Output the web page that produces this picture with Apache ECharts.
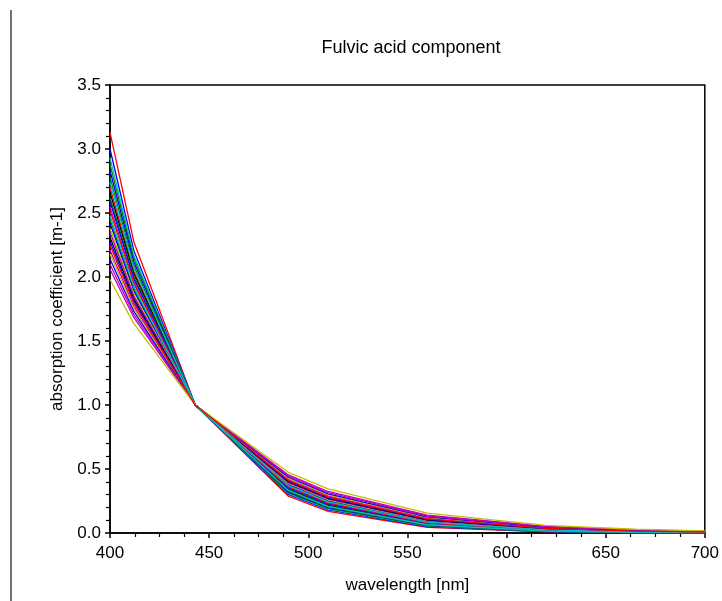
<!DOCTYPE html>
<html>
<head>
<meta charset="utf-8">
<script src="https://cdn.jsdelivr.net/npm/echarts@6/dist/echarts.min.js"></script>
<style>html,body{margin:0;padding:0;background:#fff}#c{width:722px;height:601px}</style>
</head>
<body>
<div id="c"></div>
<script>
const titleText = 'Fulvic acid component';
const xName = 'wavelength [nm]';
const yName = 'absorption coefficient [m-1]';
const wavelengths = [400, 412, 443, 490, 510, 560, 620, 665, 700];

const s01 = [3.13, 2.276, 1, 0.2873, 0.1690, 0.0448, 0.00913, 0.00277, 0.00109];
const s02 = [3.00, 2.208, 1, 0.3010, 0.1806, 0.0503, 0.01087, 0.00344, 0.00141];
const s03 = [2.93, 2.171, 1, 0.3088, 0.1873, 0.0537, 0.01198, 0.00389, 0.00162];
const s04 = [2.88, 2.144, 1, 0.3147, 0.1924, 0.0562, 0.01285, 0.00425, 0.00180];
const s05 = [2.83, 2.117, 1, 0.3208, 0.1977, 0.0590, 0.01381, 0.00465, 0.00199];
const s06 = [2.78, 2.090, 1, 0.3271, 0.2033, 0.0619, 0.01486, 0.00509, 0.00222];
const s07 = [2.74, 2.068, 1, 0.3323, 0.2080, 0.0644, 0.01577, 0.00549, 0.00242];
const s08 = [2.70, 2.046, 1, 0.3377, 0.2127, 0.0670, 0.01676, 0.00592, 0.00264];
const s09 = [2.66, 2.025, 1, 0.3433, 0.2178, 0.0698, 0.01783, 0.00640, 0.00289];
const s10 = [2.62, 2.002, 1, 0.3490, 0.2229, 0.0727, 0.01898, 0.00692, 0.00316];
const s11 = [2.59, 1.986, 1, 0.3534, 0.2270, 0.0751, 0.01990, 0.00734, 0.00339];
const s12 = [2.55, 1.964, 1, 0.3594, 0.2326, 0.0783, 0.02121, 0.00796, 0.00372];
const s13 = [2.52, 1.947, 1, 0.3641, 0.2369, 0.0809, 0.02227, 0.00846, 0.00399];
const s14 = [2.48, 1.925, 1, 0.3705, 0.2429, 0.0845, 0.02379, 0.00919, 0.00439];
const s15 = [2.45, 1.908, 1, 0.3755, 0.2475, 0.0873, 0.02501, 0.00979, 0.00472];
const s16 = [2.42, 1.891, 1, 0.3806, 0.2523, 0.0903, 0.02630, 0.01043, 0.00508];
const s17 = [2.38, 1.869, 1, 0.3876, 0.2590, 0.0945, 0.02817, 0.01137, 0.00562];
const s18 = [2.35, 1.851, 1, 0.3930, 0.2642, 0.0978, 0.02969, 0.01214, 0.00606];
const s19 = [2.31, 1.829, 1, 0.4005, 0.2713, 0.1025, 0.03187, 0.01327, 0.00671];
const s20 = [2.28, 1.811, 1, 0.4062, 0.2769, 0.1062, 0.03362, 0.01419, 0.00726];
const s21 = [2.25, 1.794, 1, 0.4122, 0.2827, 0.1101, 0.03551, 0.01519, 0.00786];
const s22 = [2.21, 1.771, 1, 0.4203, 0.2907, 0.1156, 0.03823, 0.01667, 0.00874];
const s23 = [2.18, 1.754, 1, 0.4267, 0.2970, 0.1200, 0.04045, 0.01789, 0.00949];
const s24 = [2.14, 1.731, 1, 0.4354, 0.3056, 0.1262, 0.04365, 0.01969, 0.01060];
const s25 = [2.10, 1.707, 1, 0.4445, 0.3147, 0.1328, 0.04718, 0.02171, 0.01187];
const s26 = [2.06, 1.684, 1, 0.4539, 0.3243, 0.1400, 0.05106, 0.02396, 0.01331];
const s27 = [1.98, 1.636, 1, 0.4740, 0.3450, 0.1559, 0.06009, 0.02940, 0.01686];

const allSeries = [s01,s02,s03,s04,s05,s06,s07,s08,s09,s10,s11,s12,s13,s14,s15,s16,s17,s18,s19,s20,s21,s22,s23,s24,s25,s26,s27];

const R='#ff0000', B='#0000ff', G='#008000', C='#00bfbf', M='#bf00bf', Y='#bfbf00', K='#000000';
const lineColors = [R,B,C,G,B,G,C,R,K,G,B,M,R,C,G,B,Y,M,K,B,R,M,Y,B,M,M,Y];

const font = 'Liberation Sans, Arial, sans-serif';
const chart = echarts.init(document.getElementById('c'));
chart.setOption({
  animation: false,
  backgroundColor: '#fff',
  title: { text: titleText, left: 406, top: 34, textAlign: 'center',
    textStyle: { fontFamily: font, fontSize: 18, fontWeight: 'normal', color: '#000' } },
  grid: { left: 110, right: 17, top: 85, bottom: 68, show: true, borderColor: '#000', borderWidth: 1.5, backgroundColor: 'transparent' },
  graphic: [{ type: 'line', shape: { x1: 11, y1: 10, x2: 11, y2: 601 }, style: { stroke: '#444', lineWidth: 1.5 } }],
  xAxis: { type: 'value', min: 400, max: 700, interval: 50, name: xName, nameLocation: 'middle', nameGap: 44,
    nameTextStyle: { fontFamily: font, fontSize: 17, color: '#000' },
    axisLine: { show: true, lineStyle: { color: '#000', width: 1.5 } },
    axisTick: { show: true, length: 5, lineStyle: { color: '#000', width: 1.5 } },
    minorTick: { show: true, splitNumber: 4, length: 4, lineStyle: { color: '#000', width: 1.2 } },
    splitLine: { show: false },
    axisLabel: { fontFamily: font, fontSize: 17, color: '#000', margin: 12 } },
  yAxis: { type: 'value', min: 0, max: 3.5, interval: 0.5, name: yName, nameLocation: 'middle', nameGap: 44,
    nameTextStyle: { fontFamily: font, fontSize: 17, color: '#000' },
    axisLine: { show: true, lineStyle: { color: '#000', width: 1.5 } },
    axisTick: { show: true, length: 5, lineStyle: { color: '#000', width: 1.5 } },
    minorTick: { show: true, splitNumber: 5, length: 4, lineStyle: { color: '#000', width: 1.2 } },
    splitLine: { show: false },
    axisLabel: { fontFamily: font, fontSize: 17, color: '#000', margin: 9, formatter: v => v.toFixed(1) } },
  series: allSeries.map((arr, i) => ({
    type: 'line', data: wavelengths.map((w, j) => [w, arr[j]]), symbol: 'none',
    lineStyle: { color: lineColors[i], width: 1.3 }, z: 2 + (i % 7)
  }))
});
</script>
</body>
</html>
